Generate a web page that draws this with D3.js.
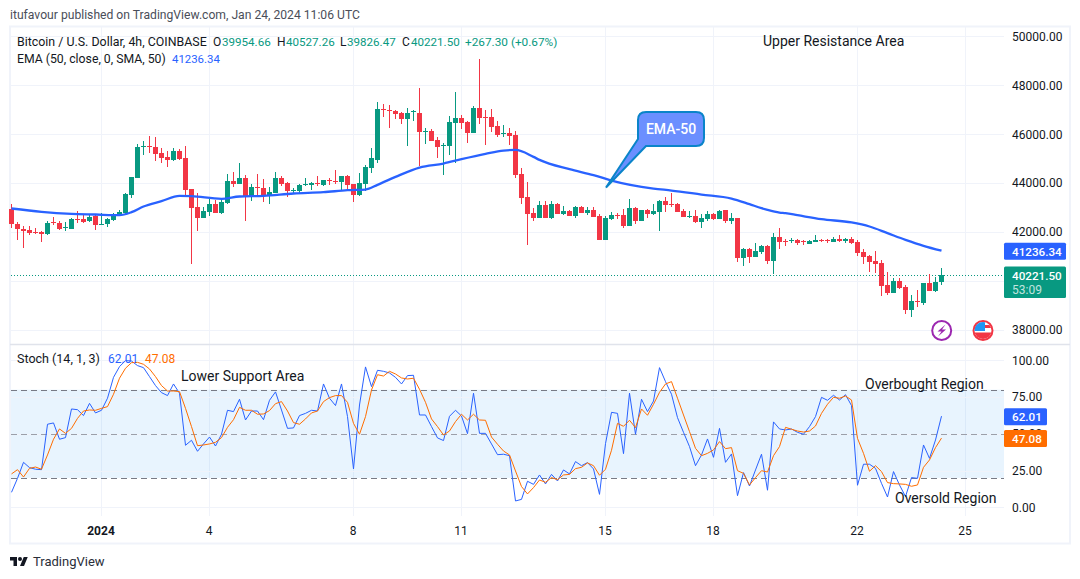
<!DOCTYPE html>
<html>
<head>
<meta charset="utf-8">
<script src="https://cdn.jsdelivr.net/npm/d3@7"></script>
<style>
  html, body { margin: 0; padding: 0; background: #fff; overflow: hidden; }
  text { font-family: Roboto, "Open Sans", sans-serif; fill: #131722; }
  .axis text { font-size: 12px; fill: #131722; }
  .axis .domain { display: none; }
</style>
</head>
<body>
<div id="chart"></div>
<script>
//candles, one every 4h
var opens = [42947,42334,42130,42089,42007,41980,41898,42389,42375,42144,
  42130,42552,42525,42430,42634,42293,42307,42498,42675,42784,
  43519,44228,45494,45508,45480,45235,45072,44963,45317,45031,
  43764,43029,42579,42825,43151,42784,43192,44091,43969,44214,
  43478,43860,43805,43519,43601,44214,44010,43669,43669,43914,
  43928,44010,43928,44132,44091,44051,44295,43969,43519,43969,
  44622,44949,47019,46992,46951,46870,46625,46910,46870,46093,
  46134,45766,45521,45521,46461,46665,46502,46052,47074,46706,
  46706,46339,46012,46052,45971,44377,43437,42784,42579,43110,
  42579,43151,42743,42865,42661,43029,42784,42906,42661,41680,
  42539,42688,42702,42253,42988,42457,42906,42743,42825,43274,
  43165,43151,42865,42620,42661,42416,42539,42743,42539,42906,
  42457,42579,40945,41313,40986,41190,41435,40823,41803,41640,
  41626,41653,41626,41517,41599,41680,41680,41599,41721,41640,
  41721,41599,41190,41027,40823,40741,39842,39515,40005,39760,
  38821,39188,39106,39923,39597,39954.66];
var highs = [43151,42416,42239,42239,42171,42035,42443,42607,42430,42389,
  42593,42852,42688,42729,42688,42784,42566,42784,42906,43614,
  44265,45617,45725,45930,45875,45439,45317,45439,45399,45521,
  43770,43601,43029,43356,43315,43356,44377,44459,44827,44336,
  43969,44377,44173,43846,44459,44295,44051,43805,43969,44214,
  44051,44295,44142,44214,44541,44305,44336,43980,44418,44745,
  45439,47319,47237,47197,46992,46910,47060,46992,47891,46257,
  46216,45889,45644,46747,47728,46788,46543,47156,49076,46992,
  47033,46543,46379,46270,46134,44622,44051,42988,43274,43274,
  43274,43192,43070,42906,43070,43070,43029,43029,42743,42661,
  42825,42784,42947,43356,43029,42915,42947,43151,43315,43437,
  43601,43192,42947,42865,42906,42743,42865,42784,42906,42915,
  42784,42590,41354,41354,41558,41476,41476,41966,42171,41721,
  41762,41694,41680,41680,41885,41721,41721,41803,41885,41762,
  41803,41680,41313,41040,41231,40863,40373,40128,40128,39842,
  39433,39637,39930,40291,40169,40527.26];
var lows = [42171,41680,41326,41857,41912,41571,41890,42266,42089,42021,
  42120,42375,42375,42402,42089,42280,42212,42470,42634,42743,
  43410,44220,45153,45249,44922,44827,44663,44922,44949,43506,
  40673,42048,42570,42661,42775,42743,43151,43846,43960,42457,
  43274,43478,43233,43151,43590,43887,43451,43601,43601,43887,
  43723,43887,43887,43928,43969,43683,43683,43233,43478,43683,
  44418,44827,46706,46257,46625,46420,45521,46543,44704,45603,
  45715,45031,44336,45153,44827,46216,45644,46040,46420,45562,
  46093,45889,45889,45562,44214,43151,41476,42457,42570,42570,
  42539,42730,42702,42650,42579,42775,42702,42610,41670,41670,
  42498,42539,42171,42240,42334,42445,42579,42702,42048,42825,
  43029,42815,42610,42579,42375,42171,42457,42498,42530,42375,
  42334,40782,40618,40741,40975,41108,40700,40291,41313,41435,
  41558,41476,41476,41505,41590,41599,41558,41590,41599,41558,
  41517,41027,40700,40373,40332,39392,39433,39505,39678,38657,
  38534,38943,39025,39590,39556,39826.47];
var closes = [42307,42103,42048,41966,41966,41912,42375,42348,42130,42185,
  42539,42511,42402,42620,42266,42334,42539,42675,42838,43574,
  44255,45480,45535,45467,45194,45031,44963,45317,44990,43723,
  42999,42579,42865,43151,42784,43233,44091,43969,44214,43478,
  43846,43819,43519,43642,44214,43969,43683,43723,43928,43969,
  44010,43955,44132,44091,44051,44295,43928,43519,44010,44663,
  45031,47033,46979,46951,46829,46625,46870,46951,46093,46134,
  45725,45480,45562,46502,46665,46461,46052,47074,46665,46665,
  46298,45957,46052,45930,44336,43396,42743,42579,43110,42579,
  43151,42743,42865,42661,43029,42784,42906,42620,41680,42579,
  42702,42648,42253,42988,42457,42906,42743,42865,43274,43110,
  43124,42825,42620,42661,42416,42579,42743,42539,42865,42457,
  42579,40945,41313,40986,41231,41435,40823,41803,41599,41599,
  41667,41558,41585,41640,41680,41640,41640,41721,41640,41721,
  41558,41149,40986,40782,40700,39801,39515,40005,39719,38821,
  39188,39147,39923,39597,39954,40221.50];

//EMA-50 read at some candles
var emaIndex = [0,5,10,14,18,20,22,25,28,30,35,38,42,47,52,56,59,61,64,68,72,75,79,82,84,87,88,93,97,100,107,110,115,120,123,125,126,128,129,131,135,140,143,146,149,152,155];
var emaValues = [42961,42825,42743,42716,42688,42811,43042,43260,43478,43465,43356,43451,43478,43574,43628,43710,43737,43928,44255,44636,44800,44977,45194,45331,45358,45072,44949,44568,44330,44105,43778,43696,43533,43369,43138,42974,42906,42797,42770,42688,42525,42389,42225,41953,41680,41435,41236.34];

//stochastic %K and %D
var stochK = [10.2,19.7,30.6,27.0,25.9,25.6,56.5,57.4,46.3,47.4,
  66.9,66.4,62.4,70.7,64.2,66.0,74.2,88.4,95.7,99.8,
  99.5,96.4,95.0,88.9,82.8,78.0,76.0,83.9,77.6,42.2,
  45.6,38.1,43.1,47.8,41.7,49.7,66.0,65.1,73.5,59.4,
  65.5,65.5,59.6,72.8,78.5,66.2,53.7,54.0,62.4,63.9,
  66.0,65.5,83.9,74.2,69.2,83.9,61.7,26.1,69.6,95.5,
  82.1,93.2,92.5,91.4,88.4,83.9,89.6,89.8,62.8,62.8,
  54.9,47.2,45.4,61.9,66.0,62.1,50.1,77.6,50.3,50.3,
  43.1,35.8,36.1,35.1,4.3,5.4,17.7,15.6,22.0,15.9,
  22.4,17.9,25.4,22.7,31.1,28.3,30.4,26.1,8.8,43.3,
  64.6,63.9,36.5,77.6,49.7,73.5,65.1,72.3,95.0,85.5,
  76.9,61.0,51.0,41.3,28.3,35.6,46.5,34.0,53.7,30.6,
  36.3,7.9,23.6,14.5,25.4,36.1,11.6,58.1,53.3,52.6,
  53.3,51.0,49.7,54.9,61.7,74.8,72.8,76.2,73.0,76.6,
  69.2,15.0,29.3,29.3,26.5,16.3,7.0,24.3,15.2,7.3,
  20.2,19.7,42.4,33.3,45.8,62.01];
var stochD = [22.7,25.6,20.6,26.5,27.4,25.9,35.6,46.3,53.3,50.3,
  53.7,60.5,65.5,66.2,66.0,67.3,68.5,76.9,87.8,94.6,
  98.4,98.6,97.3,94.1,88.9,82.8,79.1,79.1,78.7,67.3,
  54.9,41.9,42.4,43.1,44.2,47.4,54.4,59.6,68.0,66.0,
  66.0,63.3,63.5,65.8,70.5,71.9,65.5,57.6,56.5,60.1,
  64.2,65.5,71.9,74.6,76.0,76.0,71.4,57.1,49.7,61.7,
  79.8,90.2,89.3,92.5,90.7,88.0,87.3,87.8,80.3,71.4,
  60.1,54.9,49.2,51.9,58.3,63.3,59.4,63.3,59.4,59.2,
  47.8,42.9,38.3,35.6,24.7,14.1,9.1,13.4,18.6,17.0,
  20.2,18.8,22.0,22.4,26.3,27.2,30.2,28.3,21.8,25.9,
  38.8,57.1,55.1,59.2,54.2,66.9,62.6,70.1,78.2,83.9,
  85.5,74.2,62.8,51.5,40.1,35.1,36.7,39.0,44.7,39.9,
  40.6,24.9,23.1,15.2,20.2,24.9,24.0,35.1,41.3,54.4,
  53.1,51.9,51.2,51.9,55.3,63.9,70.1,74.8,74.2,75.7,
  73.0,46.9,36.7,24.5,28.3,24.3,16.8,16.1,15.9,15.6,
  14.3,15.2,27.2,32.2,40.6,47.08];

//axis ticks
var priceTicks = [38000,40000,42000,44000,46000,48000,50000];
var priceLabels = [38000,42000,44000,46000,48000,50000];
var stochTicks = [0,25,50,75,100];
var stochLabels = [0,25,75,100];
var timeIndex = [15,33,57,75,99,117,141,159];
var timeLabels = ["2024","4","8","11","15","18","22","25"];

var lastPrice = 40221.50;
var lastEma = 41236.34;
var lastK = 62.01;
var lastD = 47.08;

//colors
var upColor = "#089981";
var downColor = "#f23645";
var emaColor = "#2962ff";
var dColor = "#ff6d00";
var gridColor = "#f0f3fa";
var borderColor = "#e0e3eb";

var svgWidth = 1080;
var svgHeight = 579;

var svg = d3.select("#chart").append("svg")
    .attr("width", svgWidth)
    .attr("height", svgHeight)
    .style("display", "block");

//scales
var xScale = d3.scaleLinear().domain([0, 155]).range([11.5, 941.5]);
var yPrice = d3.scaleLinear().domain([38000, 50000]).range([329.8, 36.4]);
var yStoch = d3.scaleLinear().domain([0, 100]).range([507.3, 360.3]);

var plotLeft = 11;
var plotRight = 1004;
var paneTop = 27;
var paneDivide = 344;
var plotBottom = 516;

//outer frame
svg.append("rect")
    .attr("x", 10).attr("y", 26.5)
    .attr("width", 1060).attr("height", 517)
    .attr("fill", "none")
    .attr("stroke", gridColor)
    .attr("stroke-width", 2);

//vertical grid
svg.append("g").selectAll("line")
    .data(timeIndex)
    .enter()
    .append("line")
    .attr("x1", d => Math.floor(xScale(d)) + 0.5)
    .attr("x2", d => Math.floor(xScale(d)) + 0.5)
    .attr("y1", paneTop)
    .attr("y2", plotBottom)
    .attr("stroke", gridColor);

//horizontal grid, price pane
svg.append("g").selectAll("line")
    .data(priceTicks)
    .enter()
    .append("line")
    .attr("x1", plotLeft)
    .attr("x2", plotRight)
    .attr("y1", d => Math.round(yPrice(d)) + 0.5)
    .attr("y2", d => Math.round(yPrice(d)) + 0.5)
    .attr("stroke", gridColor);

//stoch band
svg.append("rect")
    .attr("x", plotLeft)
    .attr("y", yStoch(80))
    .attr("width", plotRight - plotLeft)
    .attr("height", yStoch(20) - yStoch(80))
    .attr("fill", "#2196f3")
    .attr("fill-opacity", 0.1);

//horizontal grid, stoch pane
svg.append("g").selectAll("line")
    .data(stochTicks)
    .enter()
    .append("line")
    .attr("x1", plotLeft)
    .attr("x2", plotRight)
    .attr("y1", d => Math.round(yStoch(d)) + 0.5)
    .attr("y2", d => Math.round(yStoch(d)) + 0.5)
    .attr("stroke", gridColor);

//pane divider
svg.append("line")
    .attr("x1", 10).attr("x2", 1070)
    .attr("y1", paneDivide + 0.5).attr("y2", paneDivide + 0.5)
    .attr("stroke", borderColor)
    .attr("stroke-width", 1.5);

//stoch band lines
svg.append("g").selectAll("line")
    .data([80, 50, 20])
    .enter()
    .append("line")
    .attr("x1", plotLeft)
    .attr("x2", plotRight)
    .attr("y1", d => Math.round(yStoch(d)) + 0.5)
    .attr("y2", d => Math.round(yStoch(d)) + 0.5)
    .attr("stroke", "#787b86")
    .attr("stroke-opacity", d => d == 50 ? 0.7 : 1)
    .attr("stroke-dasharray", "6 4");

//last price dotted line
svg.append("line")
    .attr("x1", plotLeft)
    .attr("x2", plotRight)
    .attr("y1", Math.round(yPrice(lastPrice)) + 0.5)
    .attr("y2", Math.round(yPrice(lastPrice)) + 0.5)
    .attr("stroke", upColor)
    .attr("stroke-dasharray", "1 2");

//candles
var candles = svg.append("g").selectAll("g")
    .data(d3.range(opens.length))
    .enter()
    .append("g")
    .attr("fill", i => closes[i] >= opens[i] ? upColor : downColor)
    .attr("shape-rendering", "crispEdges");

candles.append("rect")
    .attr("x", i => xScale(i) - 0.5)
    .attr("width", 1)
    .attr("y", i => yPrice(highs[i]))
    .attr("height", i => yPrice(lows[i]) - yPrice(highs[i]));

candles.append("rect")
    .attr("x", i => xScale(i) - 2.5)
    .attr("width", 5)
    .attr("y", i => yPrice(Math.max(opens[i], closes[i])))
    .attr("height", i => Math.max(1, Math.abs(yPrice(opens[i]) - yPrice(closes[i]))));

//EMA line
var emaLine = d3.line()
    .x((d, n) => xScale(emaIndex[n]))
    .y(d => yPrice(d))
    .curve(d3.curveMonotoneX);

svg.append("path")
    .attr("d", emaLine(emaValues))
    .attr("fill", "none")
    .attr("stroke", emaColor)
    .attr("stroke-width", 2.3);

//stoch lines
var stochLine = d3.line()
    .x((d, n) => xScale(n))
    .y(d => yStoch(d));

svg.append("path")
    .attr("d", stochLine(stochK))
    .attr("fill", "none")
    .attr("stroke", emaColor)
    .attr("stroke-width", 1);

svg.append("path")
    .attr("d", stochLine(stochD))
    .attr("fill", "none")
    .attr("stroke", dColor)
    .attr("stroke-width", 1);

//axes
var priceAxis = d3.axisRight(yPrice)
    .tickValues(priceLabels)
    .tickSize(0)
    .tickPadding(0)
    .tickFormat(d3.format(".2f"));
svg.append("g").attr("class", "axis")
    .attr("transform", "translate(1012,0)")
    .call(priceAxis);

var stochAxis = d3.axisRight(yStoch)
    .tickValues(stochLabels)
    .tickSize(0)
    .tickPadding(0)
    .tickFormat(d3.format(".2f"));
svg.append("g").attr("class", "axis")
    .attr("transform", "translate(1012,0)")
    .call(stochAxis);

var timeAxis = d3.axisBottom(xScale)
    .tickValues(timeIndex)
    .tickSize(0)
    .tickPadding(9)
    .offset(0)
    .tickFormat((d, n) => timeLabels[n]);
var timeG = svg.append("g").attr("class", "axis")
    .attr("transform", "translate(-0.5,517)")
    .call(timeAxis);
timeG.selectAll("text").filter((d, n) => n == 0).style("font-weight", "700");

//axis value labels
function valueLabel(yPos, h, w, fill, label) {
    svg.append("rect")
        .attr("x", plotRight).attr("y", yPos)
        .attr("width", w).attr("height", h)
        .attr("rx", 1.5)
        .attr("fill", fill);
    svg.append("text")
        .attr("x", 1012).attr("y", yPos + 13)
        .attr("font-size", "11.7px")
        .attr("font-weight", 500)
        .style("fill", "#fff")
        .text(label);
}

//sits behind the orange tag, as in the reference
svg.append("text")
    .attr("x", 1012).attr("y", yStoch(50) + 4)
    .attr("font-size", "12px")
    .text("50.00");

valueLabel(yPrice(lastEma) - 8, 17, 62, emaColor, d3.format(".2f")(lastEma));
valueLabel(266.5, 31.5, 62, upColor, d3.format(".2f")(lastPrice));
svg.append("text")
    .attr("x", 1012).attr("y", 294)
    .attr("font-size", "12px")
    .style("fill", "#fff")
    .attr("fill-opacity", 0.75)
    .text("53:09");
valueLabel(yStoch(lastK) - 8, 17, 43, emaColor, d3.format(".2f")(lastK));
valueLabel(yStoch(lastD) - 8, 17, 43, dColor, d3.format(".2f")(lastD));

//header
svg.append("text")
    .attr("x", 10).attr("y", 19)
    .attr("font-size", "12.15px")
    .style("fill", "#4a4e59")
    .text("itufavour published on TradingView.com, Jan 24, 2024 11:06 UTC");

//legend rows
var legendItems = [
    { x: 17, t: "Bitcoin / U.S. Dollar, 4h, COINBASE", c: "#131722", s: 12.4, row: 1 },
    { x: 213, t: "O", c: "#131722", s: 12, row: 1 }, { x: 222, t: "39954.66", c: upColor, s: 11.6, row: 1 },
    { x: 277, t: "H", c: "#131722", s: 12, row: 1 }, { x: 286, t: "40527.26", c: upColor, s: 11.6, row: 1 },
    { x: 340, t: "L", c: "#131722", s: 12, row: 1 }, { x: 347, t: "39826.47", c: upColor, s: 11.6, row: 1 },
    { x: 402, t: "C", c: "#131722", s: 12, row: 1 }, { x: 411, t: "40221.50", c: upColor, s: 11.6, row: 1 },
    { x: 465, t: "+267.30 (+0.67%)", c: upColor, s: 11.8, row: 1 },
    { x: 17, t: "EMA (50, close, 0, SMA, 50)", c: "#131722", s: 12.25, row: 2 },
    { x: 172, t: "41236.34", c: emaColor, s: 11.4, row: 2 },
    { x: 17, t: "Stoch (14, 1, 3)", c: "#131722", s: 12.5, row: 3 },
    { x: 108, t: "62.01", c: emaColor, s: 12, row: 3 },
    { x: 145, t: "47.08", c: dColor, s: 12, row: 3 }
];
var legendRowY = { 1: 46, 2: 63, 3: 363 };
svg.append("g").selectAll("text")
    .data(legendItems)
    .enter()
    .append("text")
    .attr("x", d => d.x)
    .attr("y", d => legendRowY[d.row])
    .attr("font-size", d => d.s + "px")
    .style("fill", d => d.c)
    .text(d => d.t);

//drawn labels
var notes = [
    { x: 763, y: 46, t: "Upper Resistance Area" },
    { x: 181, y: 381, t: "Lower Support Area" },
    { x: 865, y: 389, t: "Overbought Region" },
    { x: 895, y: 503, t: "Oversold Region" }
];
svg.append("g").selectAll("text")
    .data(notes)
    .enter()
    .append("text")
    .attr("x", d => d.x)
    .attr("y", d => d.y)
    .attr("font-size", "14px")
    .text(d => d.t);

//EMA-50 callout
svg.append("path")
    .attr("d", "M646 112 H696 Q704 112 704 120 V138 Q704 146 696 146 H646 L606 187.5 L638 139 V120 Q638 112 646 112 Z")
    .attr("fill", "#6b8fff")
    .attr("stroke", "#0a84c9")
    .attr("stroke-width", 2);
svg.append("text")
    .attr("x", 671).attr("y", 134)
    .attr("text-anchor", "middle")
    .attr("font-size", "14px")
    .attr("font-weight", 500)
    .style("fill", "#fff")
    .text("EMA-50");

//bolt badge
svg.append("circle")
    .attr("cx", 941.7).attr("cy", 330.5).attr("r", 9.5)
    .attr("fill", "#fff")
    .attr("stroke", "#9c27b0")
    .attr("stroke-width", 2);
svg.append("path")
    .attr("d", "M945.5 324.5 L937.5 331.5 H941.5 L938 336.5 L946 329.5 H942 Z")
    .attr("fill", "#9c27b0");

//flag badge
var flag = svg.append("g");
var flagClip = svg.append("clipPath").attr("id", "flagClip");
flagClip.append("circle").attr("cx", 983).attr("cy", 330.5).attr("r", 8.5);
flag.append("circle")
    .attr("cx", 983).attr("cy", 330.5).attr("r", 9.5)
    .attr("fill", "#fff")
    .attr("stroke", "#f23645")
    .attr("stroke-width", 2);
var flagInner = flag.append("g").attr("clip-path", "url(#flagClip)");
flagInner.append("rect").attr("x", 974).attr("y", 325).attr("width", 18).attr("height", 3).attr("fill", "#f23645");
flagInner.append("rect").attr("x", 974).attr("y", 332.5).attr("width", 18).attr("height", 7).attr("fill", "#f23645");
flagInner.append("rect").attr("x", 974).attr("y", 322).attr("width", 11).attr("height", 9).attr("fill", "#2196f3");

//footer logo
var logo = svg.append("g").attr("transform", "translate(10,555) scale(0.5)");
logo.append("path").attr("d", "M14 22H7V11H0V4h14v18zM28 22h-8l7.5-18h8L28 22z").attr("fill", "#131722");
logo.append("circle").attr("cx", 20).attr("cy", 8).attr("r", 4).attr("fill", "#131722");
svg.append("text")
    .attr("x", 33).attr("y", 566)
    .attr("font-size", "13px")
    .style("fill", "#2a2e39")
    .text("TradingView");
</script>
</body>
</html>
